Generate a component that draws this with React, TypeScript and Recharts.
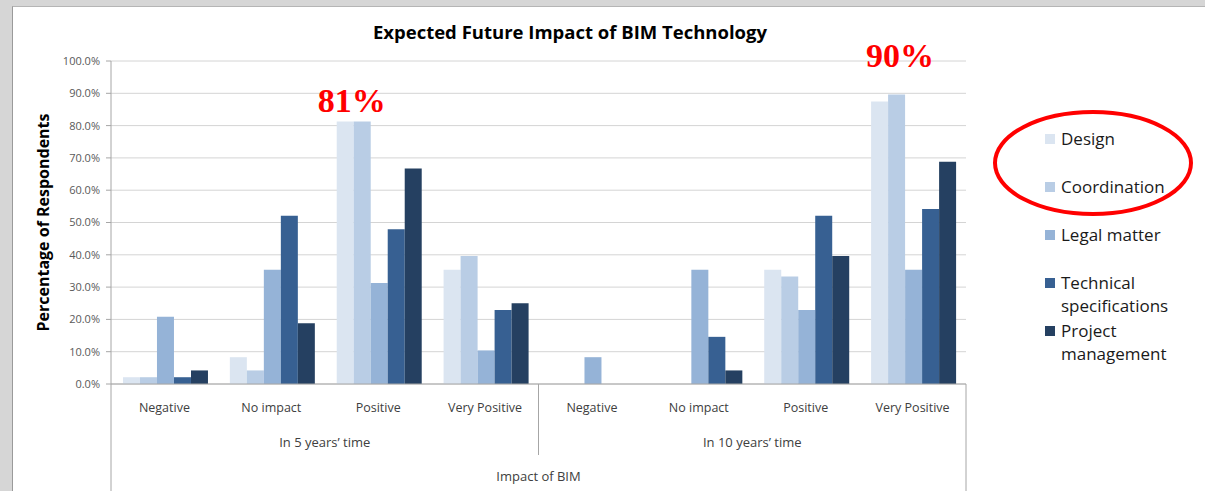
import {
  Bar,
  BarChart,
  CartesianGrid,
  LabelList,
  Legend,
  XAxis,
  YAxis,
} from "recharts";

// Survey answers, % of respondents. First four slots = 5 years, last four = 10 years.
const categories = ["Negative", "No impact", "Positive", "Very Positive"];
const periods = ["In 5 years\u2019 time", "In 10 years\u2019 time"];
const seriesNames = [
  "Design",
  "Coordination",
  "Legal matter",
  "Technical specifications",
  "Project management",
];
const design = [2.1, 8.3, 81.3, 35.4, 0, 0, 35.4, 87.5];
const coordination = [2.1, 4.2, 81.3, 39.6, 0, 0, 33.3, 89.6];
const legalMatter = [20.8, 35.4, 31.3, 10.4, 8.3, 35.4, 22.9, 35.4];
const technicalSpecs = [2.1, 52.1, 47.9, 22.9, 0, 14.6, 52.1, 54.2];
const projectManagement = [4.2, 18.8, 66.7, 25.0, 0, 4.2, 39.6, 68.8];
const yTicks = [0, 10, 20, 30, 40, 50, 60, 70, 80, 90, 100];
// red hand-drawn callouts, attached to the Coordination bar
const calloutIds = ["0-Positive", "1-Very Positive"];

const seriesValues = [design, coordination, legalMatter, technicalSpecs, projectManagement];
const seriesKeys = ["design", "coordination", "legal", "technical", "project"];
const seriesColors = ["#dbe5f1", "#b9cde5", "#95b3d7", "#376092", "#254061"];

const rows = periods.flatMap((period, p) =>
  categories.map((category, c) => {
    const i = p * categories.length + c;
    const id = `${p}-${category}`;
    const row: Record<string, string | number | undefined> = { id, category, period };
    seriesKeys.forEach((key, s) => {
      row[key] = seriesValues[s][i];
    });
    row.callout = calloutIds.includes(id) ? `${Math.round(coordination[i])}%` : undefined;
    return row;
  }),
);

const W = 1205;
const H = 491;
const FONT = "'Open Sans', Lato, sans-serif";
const CAT_AXIS_H = 40;
const PERIOD_MARGIN = 14;
const AXIS_GREY = "#a6a6a6";

// callout placement relative to the Coordination bar top-left
const calloutOffsets: Record<string, { dx: number; dy: number }> = {
  "0-Positive": { dx: -2, dy: 9 },
  "1-Very Positive": { dx: 12, dy: 28 },
};

function PeriodTick(props: any) {
  const { x, y, payload, index } = props;
  const half = payload?.offset ?? 0;
  const plotBottom = y - PERIOD_MARGIN - CAT_AXIS_H;
  const last = index === periods.length - 1;
  return (
    <g>
      {index === 0 && (
        <line x1={x - half} x2={x - half} y1={plotBottom} y2={H} stroke={AXIS_GREY} />
      )}
      <line
        x1={x + half}
        x2={x + half}
        y1={plotBottom}
        y2={last ? H : plotBottom + 71}
        stroke={AXIS_GREY}
      />
      <text
        x={x}
        y={y}
        dy="0.71em"
        textAnchor="middle"
        fill="#404040"
        fontSize={13}
        fontFamily={FONT}
      >
        {payload.value}
      </text>
    </g>
  );
}

function Callout(props: any) {
  const { x, y, value } = props;
  if (!value) return null;
  const row = rows.find((r) => r.callout === value);
  const o = calloutOffsets[String(row?.id)] ?? { dx: 0, dy: 10 };
  return (
    <text
      x={Number(x) + o.dx}
      y={Number(y) - o.dy}
      textAnchor="middle"
      fill="#ff0000"
      fontFamily="'Liberation Serif', serif"
      fontWeight="bold"
      fontSize={34}
    >
      {value}
    </text>
  );
}

function LegendBox() {
  return (
    <div style={{ position: "relative", width: 210, height: 270, fontFamily: FONT }}>
      <svg width={210} height={270} style={{ position: "absolute", left: 0, top: 0 }}>
        <ellipse cx={103} cy={58} rx={98} ry={51} fill="none" stroke="#ff0000" strokeWidth={4} />
      </svg>
      <div style={{ position: "absolute", left: 55, top: 22 }}>
        {seriesNames.map((name, s) => (
          <div key={name} style={{ display: "flex", alignItems: "flex-start", height: 48 }}>
            <span
              style={{
                width: 10,
                height: 10,
                marginTop: 7,
                marginRight: 6,
                background: seriesColors[s],
                flex: "none",
              }}
            />
            <span style={{ width: 130, fontSize: 17, lineHeight: "23px", color: "#1a1a1a" }}>
              {name}
            </span>
          </div>
        ))}
      </div>
    </div>
  );
}

export default function App() {
  return (
    <div style={{ position: "absolute", left: 0, top: 0, width: W, height: H, background: "#d6d6d6", overflow: "hidden" }}>
      <div
        style={{
          position: "absolute",
          left: 12,
          top: 6,
          right: 0,
          bottom: 0,
          background: "#ffffff",
          borderLeft: "1px solid #9a9a9a",
          borderTop: "1px solid #b5b5b5",
        }}
      />
      <div
        style={{
          position: "absolute",
          left: 320,
          width: 500,
          top: 19,
          textAlign: "center",
          fontFamily: FONT,
          fontWeight: "bold",
          fontSize: 18.5,
          lineHeight: "26px",
          color: "#000",
        }}
      >
        Expected Future Impact of BIM Technology
      </div>
      <div style={{ position: "absolute", left: 0, top: 0 }}>
        <BarChart
          width={W}
          height={H}
          data={rows}
          margin={{ top: 61, right: 239, bottom: 0, left: 30 }}
          barCategoryGap="11.2%"
          barGap={0}
        >
          <CartesianGrid vertical={false} stroke="#d4d4d4" />
          <XAxis
            xAxisId="cat"
            dataKey="id"
            height={CAT_AXIS_H}
            tickLine={false}
            tickSize={0}
            tickMargin={19}
            interval={0}
            axisLine={{ stroke: AXIS_GREY }}
            tickFormatter={(_v: string, i: number) => String(rows[i]?.category ?? "")}
            tick={{ fill: "#404040", fontSize: 12.5, fontFamily: FONT }}
          />
          <XAxis
            xAxisId="period"
            dataKey="period"
            allowDuplicatedCategory={false}
            height={H - 384 - CAT_AXIS_H}
            axisLine={false}
            tickLine={false}
            tickSize={0}
            tickMargin={PERIOD_MARGIN}
            interval={0}
            tick={<PeriodTick />}
            label={{
              value: "Impact of BIM",
              position: "insideBottom",
              offset: 10,
              fill: "#404040",
              fontSize: 13,
              fontFamily: FONT,
            }}
          />
          <YAxis
            width={81}
            domain={[0, 100]}
            ticks={yTicks}
            interval={0}
            tickSize={5}
            tickMargin={6}
            tickLine={{ stroke: AXIS_GREY }}
            axisLine={{ stroke: AXIS_GREY }}
            tickFormatter={(v: number) => `${v.toFixed(1)}%`}
            tick={{ fill: "#595959", fontSize: 11, fontFamily: FONT }}
            label={{
              value: "Percentage of Respondents",
              angle: -90,
              position: "insideLeft",
              offset: 13,
              fill: "#000",
              fontSize: 16,
              fontWeight: "bold",
              fontFamily: FONT,
              style: { textAnchor: "middle" },
            }}
          />
          <Legend
            layout="vertical"
            align="center"
            verticalAlign="middle"
            wrapperStyle={{ left: 990, top: 105, width: 210 }}
            content={<LegendBox />}
          />
          {seriesKeys.map((key, s) => (
            <Bar
              key={key}
              xAxisId="cat"
              dataKey={key}
              name={seriesNames[s]}
              fill={seriesColors[s]}
              isAnimationActive={false}
            >
              {key === "coordination" && <LabelList dataKey="callout" content={<Callout />} />}
            </Bar>
          ))}
        </BarChart>
      </div>
    </div>
  );
}
